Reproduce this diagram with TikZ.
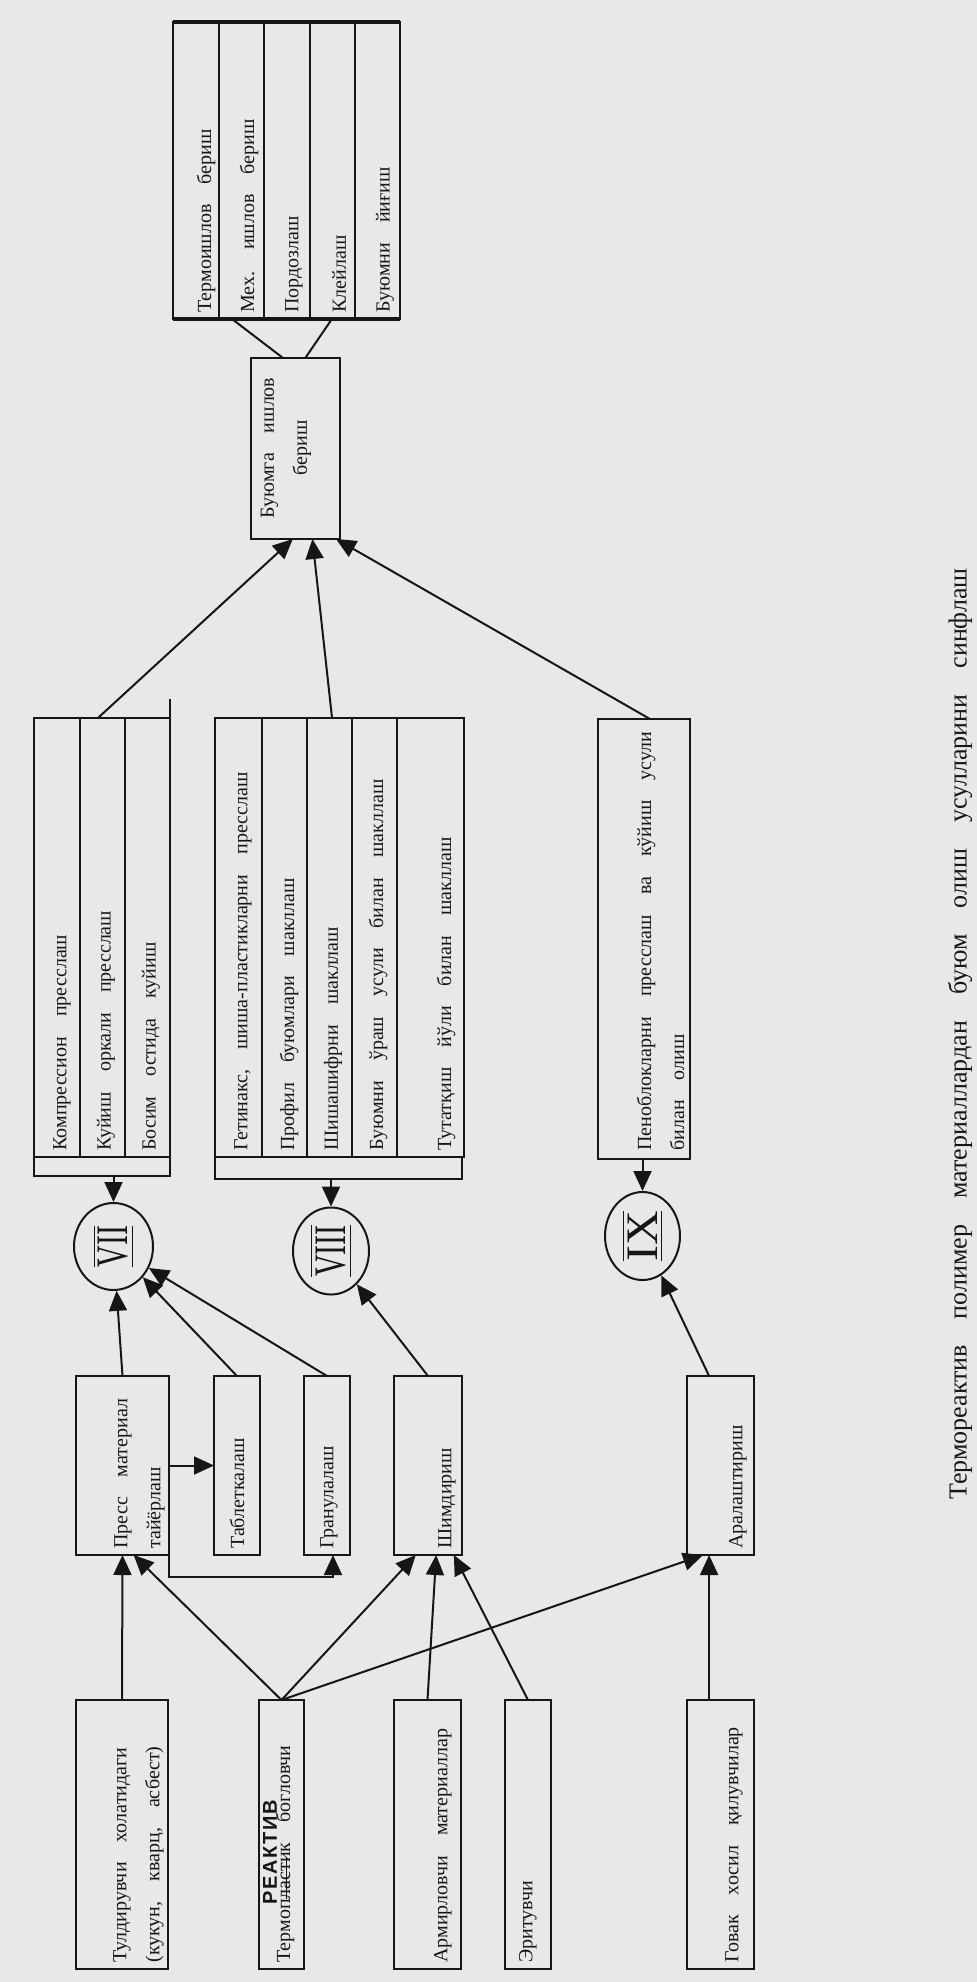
\documentclass[tikz,border=0pt]{standalone}
\usepackage{graphicx}
\usepackage{fontspec}
\setmainfont{Liberation Serif}
\newfontfamily\rkfont{Liberation Sans}
\usetikzlibrary{fit,calc,shapes.geometric,arrows.meta}
\definecolor{paper}{RGB}{232,232,232}
\definecolor{ink}{RGB}{22,22,22}
\newcommand\dgtxt{\fontsize{10}{16.5}\selectfont\spaceskip=1em plus 0.3em minus 0.2em\relax}
\newcommand\dgcap{\fontsize{13}{15}\selectfont\spaceskip=1em plus 0.3em minus 0.2em\relax}
\newcommand\dgnum[3]{\scalebox{#1}[#2]{$\overline{\underline{\hbox{#3}}}$}}
\begin{document}
\begin{tikzpicture}[x=0.5pt,y=-0.5pt,
  box/.style={draw=ink, line width=1pt, inner sep=0pt, outer sep=0pt},
  lbl/.style={rotate=90, anchor=west, inner sep=0pt, font=\dgtxt, align=left, text=ink},
  lblc/.style={rotate=90, anchor=center, inner sep=0pt, font=\dgtxt, align=center, text=ink},
  capt/.style={rotate=90, anchor=center, inner sep=0pt, font=\dgcap, text=ink},
  arr/.style={draw=ink, line width=1pt, -{Triangle[length=10pt,width=9pt]}},
  ln/.style={draw=ink, line width=1pt},
  ell/.style={draw=ink, line width=1pt, ellipse, inner sep=0pt, rotate=90, text=ink, font=\fontsize{15}{15}\selectfont}]
\fill[paper] (0,0) rectangle (977,1982);
\useasboundingbox (0,0) rectangle (977,1982);

% top table
\node[box, fit={(173,22)(400,319)}] (tt) {};
\foreach \x in {219,264,310,355} \draw[ln] (\x,22) -- (\x,319);
\draw[ink, line width=2.2pt] (tt.north west) -- (tt.north east);
\draw[ink, line width=2.2pt] (tt.south west) -- (tt.south east);
\node[lbl] (tt1) at (206,313) {Термоишлов бериш};
\node[lbl] (tt2) at (249,313) {Мех. ишлов бериш};
\node[lbl] (tt3) at (294,313) {Пордозлаш};
\node[lbl] (tt4) at (339,313) {Клейлаш};
\node[lbl] (tt5) at (385,313) {Буюмни йиғиш};

% product processing
\node[box, fit={(251,358)(340,539)}] (buy) {};
\node[lblc] (buyt) at (286,448) {Буюмга ишлов\\бериш};

% method tables
\node[box, fit={(34,718)(170,1157)}] (comp) {};
\foreach \x in {80,125} \draw[ln] (\x,718) -- (\x,1157);
\node[box, fit={(34,1157)(170,1176)}] (comps) {};
\draw[ln] (comp.north east) -- ++(0,-19);
\node[lbl] (c1) at (62,1151) {Компрессион пресслаш};
\node[lbl] (c2) at (106,1151) {Куйиш оркали пресслаш};
\node[lbl] (c3) at (151,1151) {Босим остида куйиш};

\node[box, fit={(215,718)(464,1157)}] (get) {};
\foreach \x in {262,307,352,397} \draw[ln] (\x,718) -- (\x,1157);
\node[box, fit={(215,1157)(462,1179)}] (gets) {};
\node[lbl] (g1) at (243,1151) {Гетинакс, шиша-пластикларни пресслаш};
\node[lbl] (g2) at (289,1151) {Профил буюмлари шакллаш};
\node[lbl] (g3) at (333,1151) {Шишашифрни шакллаш};
\node[lbl] (g4) at (378,1151) {Буюмни ўраш усули билан шакллаш};
\node[lbl] (g5) at (446,1151) {Тутатқиш йўли билан шакллаш};

\node[box, fit={(598,719)(690,1159)}] (peno) {};
\node[lbl] (pt) at (660.5,1151) {Пеноблокларни пресслаш ва кўйиш усули\\билан олиш};

% group circles
\node[ell, minimum width=43.5pt, minimum height=39.5pt] (c7) at (113.5,1246.5) {\dgnum{1}{1.5}{VII}};
\node[ell, minimum width=43.5pt, minimum height=38pt] (c8) at (331,1251) {\dgnum{1}{1.5}{VIII}};
\node[ell, minimum width=44pt, minimum height=37.5pt] (c9) at (642.5,1236) {\dgnum{1.6}{1.5}{IX}};

% preparation row
\node[box, fit={(76,1376)(169,1555)}] (press) {};
\node[box, fit={(214,1376)(260,1555)}] (tab) {};
\node[box, fit={(304,1376)(350,1555)}] (gran) {};
\node[box, fit={(394,1376)(462,1555)}] (shim) {};
\node[box, fit={(687,1376)(754,1555)}] (aral) {};
\node[lbl] (presst) at (139.5,1549) {Пресс материал\\тайёрлаш};
\node[lbl] (tabt) at (237,1549) {Таблеткалаш};
\node[lbl] (grant) at (329,1549) {Гранулалаш};
\node[lbl] (shimt) at (447,1549) {Шимдириш};
\node[lbl] (aralt) at (738,1549) {Аралаштириш};

% raw materials row
\node[box, fit={(76,1700)(168,1969)}] (tul) {};
\node[box, fit={(259,1700)(304,1969)}] (term) {};
\node[box, fit={(394,1700)(461,1969)}] (arm) {};
\node[box, fit={(505,1700)(551,1969)}] (eri) {};
\node[box, fit={(687,1700)(754,1969)}] (gov) {};
\node[lbl] (tult) at (138.5,1963) {Тулдирувчи холатидаги\\(кукун, кварц, асбест)};
\node[lbl, font=\rkfont\bfseries\fontsize{10}{12}\selectfont\addfontfeatures{LetterSpace=8}] (rk) at (270,1905) {РЕАКТИВ};
\node[lbl] (termt) at (285,1963) {Термоп\rlap{\rule[0.3ex]{2.1em}{0.6pt}}ластик богловчи};
\node[lbl] (armt) at (443,1963) {Армирловчи материаллар};
\node[lbl] (erit) at (528,1963) {Эритувчи};
\node[lbl] (govt) at (734,1963) {Говак хосил қилувчилар};

% caption
\node[capt] (cap) at (960,1034) {Термореактив полимер материаллардан буюм олиш усулларини синфлаш};

% connectors
\draw[arr] (tul.north) -- (press.south);
\draw[arr] (term.north) -- ($(press.south west)!0.62!(press.south east)$);
\draw[arr] (term.north) -- ($(shim.south west)!0.32!(shim.south east)$);
\draw[arr] (term.north) -- ($(aral.south west)!0.24!(aral.south east)$);
\draw[arr] (arm.north) -- ($(shim.south west)!0.62!(shim.south east)$);
\draw[arr] (eri.north) -- ($(shim.south west)!0.88!(shim.south east)$);
\draw[arr] ($(gov.north west)!0.33!(gov.north east)$) -- ($(aral.south west)!0.33!(aral.south east)$);
\draw[arr] (press.east) -- (tab.west);
\draw[arr] (press.south east) -- ++(0,22) -| ($(gran.south west)!0.63!(gran.south east)$);
\draw[arr] (press.north) -- (c7);
\draw[arr] (tab.north) -- (c7);
\draw[arr] (gran.north) -- (c7);
\draw[arr] (shim.north) -- (c8);
\draw[arr] ($(aral.north west)!0.33!(aral.north east)$) -- (c9);
\draw[arr] (comps.south -| c7) -- (c7);
\draw[arr] (gets.south -| c8) -- (c8);
\draw[arr] (peno.south -| c9) -- (c9);
\draw[arr] ($(comp.north west)!0.47!(comp.north east)$) -- ($(buy.south west)!0.47!(buy.south east)$);
\draw[arr] ($(get.north west)!0.47!(get.north east)$) -- ($(buy.south west)!0.69!(buy.south east)$);
\draw[arr] ($(peno.north west)!0.565!(peno.north east)$) -- ($(buy.south west)!0.955!(buy.south east)$);
\draw[ln] ($(tt.south west)!0.26!(tt.south east)$) -- ($(buy.north west)!0.36!(buy.north east)$);
\draw[ln] ($(tt.south west)!0.70!(tt.south east)$) -- ($(buy.north west)!0.61!(buy.north east)$);
\end{tikzpicture}
\end{document}
